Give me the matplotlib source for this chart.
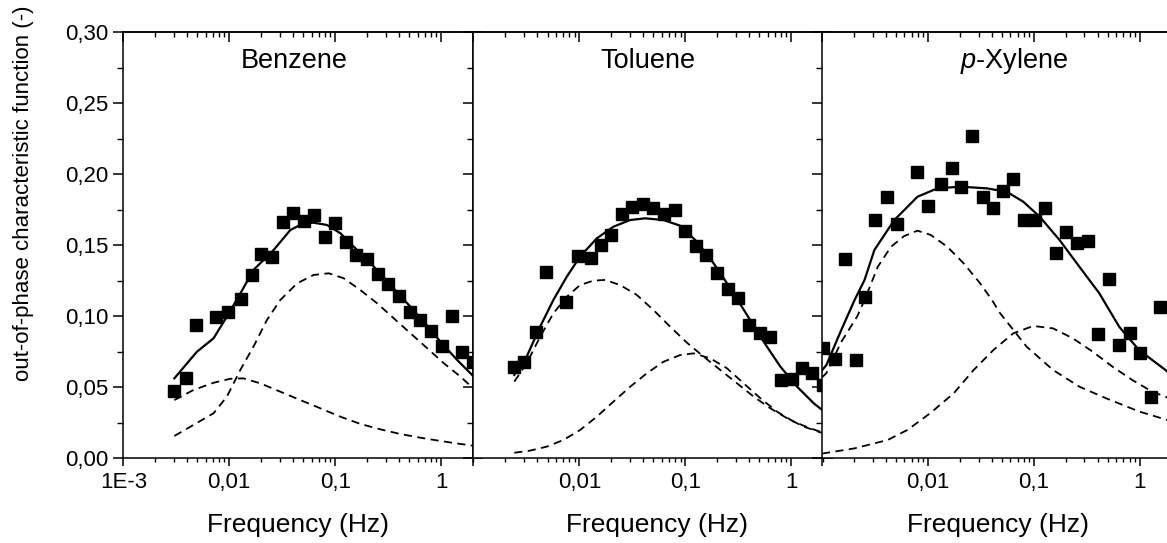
import numpy as np
import matplotlib.pyplot as plt
from matplotlib.ticker import FixedLocator, FuncFormatter, LogLocator, NullFormatter, MultipleLocator

plt.rcParams['font.family'] = ['Liberation Sans', 'DejaVu Sans']
plt.rcParams['mathtext.fontset'] = 'custom'
plt.rcParams['mathtext.rm'] = 'Liberation Sans'
plt.rcParams['mathtext.it'] = 'Liberation Sans:italic'

# ---------------- Benzene ----------------
benz_f = [0.00303, 0.00392, 0.00486, 0.00757, 0.00971, 0.0129, 0.0164, 0.0201, 0.0251, 0.0321,
          0.0399, 0.0502, 0.0625, 0.0794, 0.100, 0.1265, 0.158, 0.1995, 0.252, 0.313,
          0.401, 0.505, 0.628, 0.804, 1.01, 1.27, 1.58, 2.0]
benz_y = [0.0476, 0.0563, 0.0941, 0.0997, 0.1028, 0.1120, 0.1291, 0.1437, 0.1418, 0.1662,
          0.1730, 0.1669, 0.1713, 0.1556, 0.1657, 0.1523, 0.1434, 0.1404, 0.1296, 0.1227,
          0.1145, 0.1032, 0.0972, 0.0896, 0.0791, 0.1002, 0.0749, 0.068]

benz_fit_f = [0.00303, 0.00494, 0.00710, 0.00948, 0.0127, 0.0169, 0.0262, 0.0377, 0.0502, 0.0625,
              0.0836, 0.1117, 0.1607, 0.2307, 0.3319, 0.4775, 0.6855, 0.983, 1.416, 2.0]
benz_fit_y = [0.0563, 0.075, 0.0845, 0.0997, 0.116, 0.1326, 0.1467, 0.1608, 0.1655, 0.1659,
              0.1643, 0.1585, 0.1467, 0.135, 0.122, 0.1092, 0.0962, 0.0821, 0.0692, 0.058]

benz_c1_f = [0.00303, 0.00459, 0.0071, 0.00948, 0.0127, 0.0169, 0.02265, 0.0303, 0.0436, 0.0625,
             0.0867, 0.120, 0.1726, 0.248, 0.3565, 0.513, 0.738, 1.06, 1.52, 2.0]
benz_c1_y = [0.0157, 0.0235, 0.0317, 0.0434, 0.0622, 0.0786, 0.0974, 0.1115, 0.1232, 0.1291,
             0.1303, 0.1268, 0.1185, 0.1092, 0.0986, 0.088, 0.0775, 0.0669, 0.0575, 0.0493]

benz_c2_f = [0.00303, 0.00459, 0.0071, 0.0102, 0.0136, 0.0196, 0.0303, 0.0468, 0.0723, 0.1117,
             0.1726, 0.266, 0.411, 0.635, 0.983, 1.517, 2.0]
benz_c2_y = [0.041, 0.0481, 0.0532, 0.056, 0.0563, 0.0528, 0.0469, 0.041, 0.0352, 0.0293,
             0.0242, 0.0204, 0.0171, 0.0145, 0.0122, 0.0101, 0.0089]

# ---------------- Toluene ----------------
tol_f = [0.00243, 0.00302, 0.0039, 0.00484, 0.00748, 0.00973, 0.0129, 0.0160, 0.0199, 0.0252,
         0.0317, 0.0397, 0.0498, 0.0623, 0.0791, 0.0998, 0.1268, 0.1577, 0.2004, 0.2506,
         0.314, 0.402, 0.502, 0.634, 0.805, 1.01, 1.265, 1.58, 1.97]
tol_y = [0.0641, 0.0680, 0.0892, 0.1314, 0.1103, 0.1423, 0.1413, 0.1504, 0.1575, 0.1718,
         0.1770, 0.1793, 0.1765, 0.1718, 0.1751, 0.1603, 0.1497, 0.1434, 0.1307, 0.1190,
         0.1131, 0.0941, 0.0885, 0.0854, 0.0551, 0.0556, 0.0636, 0.0599, 0.0516]

tol_fit_f = [0.00243, 0.00318, 0.00426, 0.00568, 0.0076, 0.01014, 0.01459, 0.02094, 0.03013, 0.04169,
             0.0622, 0.0893, 0.1288, 0.1849, 0.266, 0.382, 0.548, 0.789, 1.135, 1.63, 2.0]
tol_fit_y = [0.0587, 0.0716, 0.0927, 0.1115, 0.1279, 0.1420, 0.1549, 0.1631, 0.1678, 0.169,
             0.1678, 0.1638, 0.1525, 0.1373, 0.1197, 0.1009, 0.0821, 0.0645, 0.0504, 0.0387, 0.0335]

tol_c1_f = [0.00243, 0.00318, 0.00426, 0.00568, 0.0076, 0.01014, 0.01355, 0.0175, 0.02427, 0.0349,
            0.05, 0.0719, 0.1035, 0.1486, 0.2138, 0.3076, 0.4416, 0.634, 0.912, 1.31, 2.0]
tol_c1_y = [0.054, 0.0669, 0.0856, 0.1021, 0.1138, 0.122, 0.1251, 0.1256, 0.122, 0.115,
            0.1044, 0.0927, 0.0814, 0.0716, 0.0622, 0.0528, 0.0434, 0.0352, 0.0282, 0.0223, 0.0176]

tol_c2_f = [0.00243, 0.00342, 0.00492, 0.00706, 0.01014, 0.01459, 0.02094, 0.03013, 0.04335, 0.0622,
            0.0893, 0.1197, 0.1718, 0.247, 0.3548, 0.5105, 0.7345, 1.054, 1.514, 2.0]
tol_c2_y = [0.0039, 0.0054, 0.0082, 0.0129, 0.0199, 0.0293, 0.0399, 0.0504, 0.0599, 0.068,
            0.0727, 0.0739, 0.0704, 0.0634, 0.0528, 0.0423, 0.0328, 0.0258, 0.0211, 0.018]

# ---------------- p-Xylene ----------------
xyl_f = [0.00103, 0.00132, 0.00166, 0.00207, 0.00252, 0.00317, 0.00408, 0.00509, 0.00783, 0.0101,
         0.0134, 0.0167, 0.0207, 0.0258, 0.0330, 0.0410, 0.0508, 0.0638, 0.0809, 0.1019,
         0.1284, 0.1603, 0.2018, 0.2535, 0.3206, 0.4027, 0.5058, 0.637, 0.800, 1.0,
         1.26, 1.56]
xyl_y = [0.0775, 0.0700, 0.1401, 0.0692, 0.1134, 0.1678, 0.1838, 0.1650, 0.2018, 0.1777,
         0.1932, 0.2046, 0.1908, 0.2270, 0.1838, 0.1765, 0.1885, 0.1969, 0.1678, 0.1678,
         0.1761, 0.1444, 0.1592, 0.1518, 0.1532, 0.0875, 0.1261, 0.0798, 0.088, 0.0739,
         0.043, 0.1068]

xyl_fit_f = [0.0010, 0.0011, 0.00152, 0.00203, 0.00252, 0.00312, 0.00481, 0.00796, 0.01225, 0.0202,
             0.0360, 0.0554, 0.0793, 0.1135, 0.1746, 0.2685, 0.414, 0.637, 0.980, 1.742, 2.0]
xyl_fit_y = [0.062, 0.0657, 0.0904, 0.1115, 0.1256, 0.1467, 0.1678, 0.1842, 0.1901, 0.1913,
             0.1901, 0.1877, 0.1807, 0.1701, 0.1537, 0.1349, 0.1162, 0.0927, 0.0763, 0.0622, 0.058]

xyl_c1_f = [0.0010, 0.0011, 0.00152, 0.00215, 0.00252, 0.00336, 0.00448, 0.00596, 0.00796, 0.0106,
            0.0152, 0.0217, 0.0311, 0.0401, 0.048, 0.0853, 0.1514, 0.2692, 0.478, 0.98, 2.0]
xyl_c1_y = [0.057, 0.060, 0.082, 0.100, 0.1115, 0.1349, 0.149, 0.1565, 0.1603, 0.1573,
            0.149, 0.1373, 0.1232, 0.1115, 0.1021, 0.0786, 0.0622, 0.0504, 0.0423, 0.033, 0.026]

xyl_c2_f = [0.0010, 0.00203, 0.00417, 0.00641, 0.0106, 0.0175, 0.027, 0.0415, 0.0638, 0.0984,
            0.1514, 0.2328, 0.358, 0.552, 0.849, 1.306, 1.742, 2.0]
xyl_c2_y = [0.0033, 0.007, 0.0129, 0.020, 0.032, 0.0458, 0.0622, 0.0763, 0.088, 0.0932,
            0.0915, 0.0845, 0.0751, 0.0645, 0.0551, 0.0469, 0.0434, 0.041]

panels = [
    ("Benzene", benz_f, benz_y, benz_fit_f, benz_fit_y, benz_c1_f, benz_c1_y, benz_c2_f, benz_c2_y),
    ("Toluene", tol_f, tol_y, tol_fit_f, tol_fit_y, tol_c1_f, tol_c1_y, tol_c2_f, tol_c2_y),
    (r"$\it{p}$-Xylene", xyl_f, xyl_y, xyl_fit_f, xyl_fit_y, xyl_c1_f, xyl_c1_y, xyl_c2_f, xyl_c2_y),
]

xtick_vals = [1e-3, 1e-2, 1e-1, 1]
xtick_labels = ['1E-3', '0,01', '0,1', '1']

fig = plt.figure(figsize=(11.67, 5.43), dpi=100)
lefts = [0.1057, 0.4057, 0.7044]
w, b, h = 0.2997, 0.156, 0.7845
title_x = [0.488, 0.5, 0.549]
xlabel_x = [0.5, 0.526, 0.503]

dash = (0, (4.5, 3))
for i, (name, f, y, ff, fy, c1f, c1y, c2f, c2y) in enumerate(panels):
    ax = fig.add_axes([lefts[i], b, w, h])
    ax.set_xscale('log')
    ax.plot(c1f, c1y, color='black', lw=1.3, linestyle=dash)
    ax.plot(c2f, c2y, color='black', lw=1.3, linestyle=dash)
    ax.plot(ff, fy, color='black', lw=1.6)
    ax.plot(f, y, 's', color='black', ms=8, mec='black')
    ax.set_xlim(1e-3, 2.0)
    ax.set_ylim(0, 0.30)

    ax.xaxis.set_major_locator(FixedLocator(xtick_vals))
    labels = xtick_labels if i == 0 else [''] + xtick_labels[1:]
    ax.set_xticklabels(labels)
    ax.xaxis.set_minor_locator(LogLocator(base=10, subs=np.arange(2, 10)))
    ax.xaxis.set_minor_formatter(NullFormatter())
    ax.tick_params(axis='x', which='major', direction='out', length=6, width=1.1, labelsize=16, pad=4, top=False)
    ax.tick_params(axis='x', which='minor', direction='out', length=3.2, width=1.0, top=False)

    top = ax.secondary_xaxis('top')
    top.xaxis.set_major_locator(FixedLocator(xtick_vals))
    top.xaxis.set_minor_locator(LogLocator(base=10, subs=np.arange(2, 10)))
    top.xaxis.set_major_formatter(NullFormatter())
    top.xaxis.set_minor_formatter(NullFormatter())
    top.tick_params(which='major', direction='in', length=7, width=1.1)
    top.tick_params(which='minor', direction='in', length=3.5, width=1.0)
    top.spines['top'].set_linewidth(1.1)

    ax.yaxis.set_major_locator(MultipleLocator(0.05))
    ax.yaxis.set_minor_locator(MultipleLocator(0.025))
    ax.yaxis.set_major_formatter(FuncFormatter(lambda v, p: f"{v:.2f}".replace('.', ',')))
    ax.tick_params(axis='y', which='major', direction='out', length=7.5, width=1.1, labelsize=16,
                   pad=3, left=True, right=True, labelleft=(i == 0))
    ax.tick_params(axis='y', which='minor', direction='out', length=4.5, width=1.0, left=True, right=True)

    for s in ax.spines.values():
        s.set_linewidth(1.1)

    ax.set_xlabel("Frequency (Hz)", fontsize=19)
    ax.xaxis.set_label_coords(xlabel_x[i], -0.128)
    ax.text(title_x[i], 0.933, name, transform=ax.transAxes, ha='center', va='center', fontsize=19.5)

fig.text(0.02, 0.6436, "out-of-phase characteristic function (-)", rotation=90,
         ha='center', va='center', fontsize=16)

fig.savefig('out.png', dpi=100)
